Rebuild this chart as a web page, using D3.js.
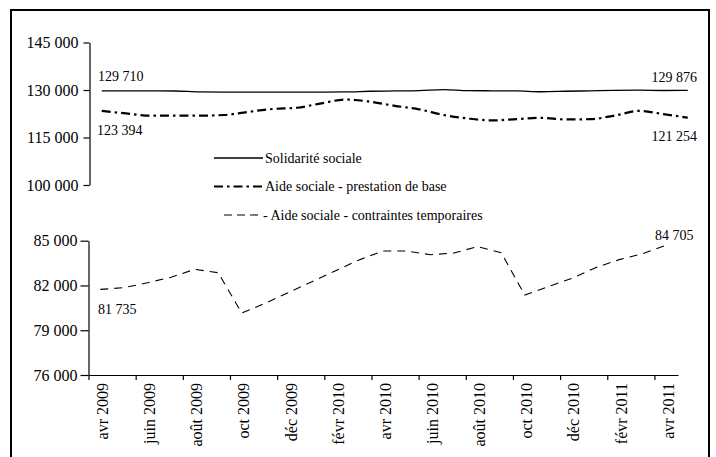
<!DOCTYPE html>
<html><head><meta charset="utf-8">
<script src="https://cdn.jsdelivr.net/npm/d3@7"></script>
<style>body{margin:0;background:#fff}svg{display:block}text{font-family:"Liberation Serif","Times New Roman",serif;fill:#000}</style>
</head><body><svg id="c" width="716" height="457" font-family="Liberation Serif"></svg>
<script>
const months = ["avr 2009","mai 2009","juin 2009","juil 2009","août 2009","sept 2009","oct 2009","nov 2009","déc 2009","janv 2010","févr 2010","mars 2010","avr 2010","mai 2010","juin 2010","juil 2010","août 2010","sept 2010","oct 2010","nov 2010","déc 2010","janv 2011","févr 2011","mars 2011","avr 2011"];
const solidarite = [129710,129720,129700,129680,129400,129350,129350,129350,129350,129350,129400,129600,129700,129800,130150,129800,129750,129700,129450,129600,129750,129900,129950,129850,129876];
const prestationBase = [123394,122600,121900,121900,121900,122100,123100,124000,124400,125800,127000,126300,125000,123900,122100,121000,120400,120800,121200,120700,120800,121900,123400,122400,121254];
const contraintesTemp = [81735,81850,82180,82550,83080,82855,80150,80810,81540,82270,83000,83730,84310,84310,84060,84175,84600,84200,81360,81920,82480,83190,83730,84130,84705];
const upperTicks = [100000,115000,130000,145000];
const lowerTicks = [76000,79000,82000,85000];
const xLabelIdx = [0,2,4,6,8,10,12,14,16,18,20,22,24];
const legendNames = ["Solidarité sociale","Aide sociale - prestation de base","- Aide sociale - contraintes temporaires"];

const svg = d3.select("#c");
const fmt = v => d3.format(",")(v).replace(/,/g," ");

// frame
svg.append("rect").attr("x",11).attr("y",10).attr("width",698).attr("height",470)
  .attr("fill","none").attr("stroke","#000").attr("stroke-width",2);

// ---------- upper panel ----------
const xU = d3.scaleBand().domain(months).range([89.5,700]).paddingInner(0).paddingOuter(0);
const yU = d3.scaleLinear().domain([100000,145000]).range([185,42.5]);
const cxU = d => xU(d)+xU.bandwidth()/2;

const axU = svg.append("g").attr("transform","translate(89.5,0)")
  .call(d3.axisLeft(yU).tickValues(upperTicks).tickSize(6).tickSizeOuter(0).tickFormat(fmt));
axU.attr("font-family","Liberation Serif");
axU.select(".domain").attr("stroke","#000").attr("stroke-width",1.2);
axU.selectAll(".tick line").attr("stroke","#000").attr("stroke-width",1.2);
axU.selectAll(".tick text").attr("x",-11).style("font-size","16px").style("font-family","Liberation Serif");

const lineU = (arr) => d3.line().x((d,i)=>cxU(months[i])).y(d=>yU(d)).curve(d3.curveMonotoneX)(arr);
svg.append("path").attr("d",lineU(solidarite)).attr("fill","none").attr("stroke","#000").attr("stroke-width",1.3);
svg.append("path").attr("d",lineU(prestationBase)).attr("fill","none").attr("stroke","#000").attr("stroke-width",2.2)
  .attr("stroke-dasharray","9,4,2.5,4");

// ---------- lower panel ----------
const xL = d3.scaleBand().domain(months).range([88.5,678]).paddingInner(0).paddingOuter(0);
const yL = d3.scaleLinear().domain([76000,85000]).range([375,240.7]);
const cxL = d => xL(d)+xL.bandwidth()/2;

const axL = svg.append("g").attr("transform","translate(88.5,0)")
  .call(d3.axisLeft(yL).tickValues(lowerTicks).tickSize(8).tickSizeOuter(0).tickFormat(fmt));
axL.attr("font-family","Liberation Serif");
axL.select(".domain").attr("stroke","#000").attr("stroke-width",1.2);
axL.selectAll(".tick line").attr("stroke","#000").attr("stroke-width",1.2);
axL.selectAll(".tick text").attr("x",-11).style("font-size","16px").style("font-family","Liberation Serif");

const xEdge = d3.scaleLinear().domain([0,months.length]).range([88.5,678]);
const axB = svg.append("g").attr("transform","translate(0,375)")
  .call(d3.axisBottom(xEdge).tickValues(xLabelIdx).tickSize(5).tickSizeOuter(0).tickFormat(""));
axB.select(".domain").attr("stroke","#000").attr("stroke-width",1.2);
axB.selectAll(".tick line").attr("stroke","#000").attr("stroke-width",1.2);

svg.append("g").selectAll("text").data(xLabelIdx).join("text")
  .attr("transform",i=>`translate(${cxL(months[i])+2},383) rotate(-90)`)
  .attr("text-anchor","end").attr("dy","0.35em").style("font-size","16px")
  .text(i=>months[i]);

const lineL = d3.line().x((d,i)=>cxL(months[i])).y(d=>yL(d));
svg.append("path").attr("d",lineL(contraintesTemp)).attr("fill","none").attr("stroke","#000").attr("stroke-width",1.1)
  .attr("stroke-dasharray","8,6");

// ---------- data labels ----------
const n = months.length-1;
const lab = (x,y,t,anchor) => svg.append("text").attr("x",x).attr("y",y).attr("text-anchor",anchor).style("font-size","14px").text(t);
lab(98,81,fmt(solidarite[0]),"start");
lab(97,135,fmt(prestationBase[0]),"start");
lab(697,81.5,fmt(solidarite[n]),"end");
lab(697,140.5,fmt(prestationBase[n]),"end");
lab(98,314,fmt(contraintesTemp[0]),"start");
lab(693.5,240,fmt(contraintesTemp[n]),"end");

// ---------- legend ----------
const leg = [
  {y:158, x1:214, x2:263, w:1.3, dash:null},
  {y:186.5, x1:214, x2:263, w:2.2, dash:"9,4,2.5,4"},
  {y:215, x1:224, x2:258, w:1.1, dash:"8,5"}
];
leg.forEach((l,i)=>{
  const ln = svg.append("line").attr("x1",l.x1).attr("x2",l.x2).attr("y1",l.y).attr("y2",l.y)
    .attr("stroke","#000").attr("stroke-width",l.w);
  if(l.dash) ln.attr("stroke-dasharray",l.dash);
  svg.append("text").attr("x",i===2?263:265).attr("y",l.y+4.5).style("font-size","14px").text(legendNames[i]);
});
</script></body></html>
